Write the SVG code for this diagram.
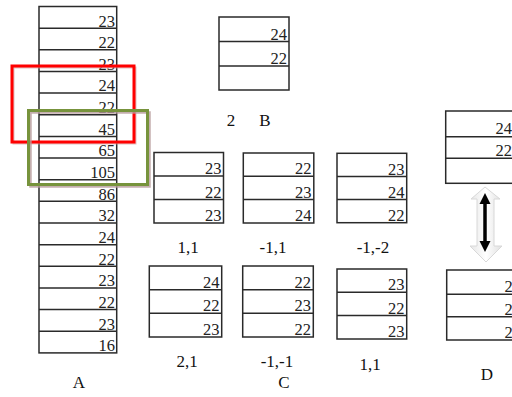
<svg xmlns="http://www.w3.org/2000/svg" width="512" height="397" viewBox="0 0 512 397">
<defs>
<style>
.box{fill:#fff;stroke:#2a2a2a;stroke-width:1.5}
.ln{stroke:#2a2a2a;stroke-width:1.5}
.n{font-family:"Liberation Serif",serif;font-size:16.5px;fill:#222;text-anchor:end}
.lb{font-family:"Liberation Serif",serif;font-size:17px;fill:#111;text-anchor:middle}
</style>
<linearGradient id="ga" x1="0" y1="0" x2="1" y2="0">
<stop offset="0" stop-color="#e6e6e6"/><stop offset="0.5" stop-color="#ffffff"/><stop offset="1" stop-color="#e0e0e0"/>
</linearGradient>
</defs>
<rect width="512" height="397" fill="#fff"/>

<g id="A">
<rect class="box" x="39" y="6.5" width="77.7" height="346.4"/>
<g class="ln">
<line x1="39" x2="116.7" y1="28.15" y2="28.15"/>
<line x1="39" x2="116.7" y1="49.8" y2="49.8"/>
<line x1="39" x2="116.7" y1="71.45" y2="71.45"/>
<line x1="39" x2="116.7" y1="93.1" y2="93.1"/>
<line x1="39" x2="116.7" y1="114.75" y2="114.75"/>
<line x1="39" x2="116.7" y1="136.4" y2="136.4"/>
<line x1="39" x2="116.7" y1="158.05" y2="158.05"/>
<line x1="39" x2="116.7" y1="179.7" y2="179.7"/>
<line x1="39" x2="116.7" y1="201.35" y2="201.35"/>
<line x1="39" x2="116.7" y1="223" y2="223"/>
<line x1="39" x2="116.7" y1="244.65" y2="244.65"/>
<line x1="39" x2="116.7" y1="266.3" y2="266.3"/>
<line x1="39" x2="116.7" y1="287.95" y2="287.95"/>
<line x1="39" x2="116.7" y1="309.6" y2="309.6"/>
<line x1="39" x2="116.7" y1="331.25" y2="331.25"/>
</g>
<text class="n" x="115" y="26.5">23</text>
<text class="n" x="115" y="48.1">22</text>
<text class="n" x="115" y="69.8">23</text>
<text class="n" x="115" y="91.4">24</text>
<text class="n" x="115" y="113.1">22</text>
<text class="n" x="115" y="134.7">45</text>
<text class="n" x="115" y="156.4">65</text>
<text class="n" x="115" y="178">105</text>
<text class="n" x="115" y="199.7">86</text>
<text class="n" x="115" y="221.3">32</text>
<text class="n" x="115" y="243">24</text>
<text class="n" x="115" y="264.6">22</text>
<text class="n" x="115" y="286.3">23</text>
<text class="n" x="115" y="307.9">22</text>
<text class="n" x="115" y="329.6">23</text>
<text class="n" x="115" y="351.2">16</text>
<text class="lb" x="79" y="388">A</text>
</g>

<g id="highlights">
<rect x="13.5" y="67.5" width="122" height="76" fill="none" stroke="#c99" stroke-width="2" opacity="0.6"/>
<rect x="12" y="66" width="122" height="76" fill="none" stroke="#f00" stroke-width="3"/>
<rect x="30.5" y="112.5" width="119" height="74" fill="none" stroke="#b59a9a" stroke-width="2.5" opacity="0.8"/>
<rect x="28.5" y="110.5" width="119" height="74" fill="none" stroke="#77933c" stroke-width="3"/>
</g>

<g id="B">
<rect class="box" x="219" y="17" width="70" height="73"/>
<line class="ln" x1="219" x2="289" y1="41.5" y2="41.5"/>
<line class="ln" x1="219" x2="289" y1="66" y2="66"/>
<text class="n" x="287" y="39.5">24</text>
<text class="n" x="287" y="63.5">22</text>
<text class="lb" x="231" y="126">2</text>
<text class="lb" x="265" y="126">B</text>
</g>

<g id="C1">
<rect class="box" x="154" y="152.5" width="69.5" height="70.5"/>
<line class="ln" x1="154" x2="223.5" y1="176" y2="176"/>
<line class="ln" x1="154" x2="223.5" y1="199.5" y2="199.5"/>
<text class="n" x="221.5" y="174">23</text>
<text class="n" x="221.5" y="197.5">22</text>
<text class="n" x="221.5" y="221">23</text>
<text class="lb" x="188" y="253">1,1</text>
</g>
<g id="C2">
<rect class="box" x="243.3" y="153" width="70.5" height="70"/>
<line class="ln" x1="243.3" x2="313.8" y1="176.3" y2="176.3"/>
<line class="ln" x1="243.3" x2="313.8" y1="199.6" y2="199.6"/>
<text class="n" x="311.5" y="174.3">22</text>
<text class="n" x="311.5" y="197.6">23</text>
<text class="n" x="311.5" y="221">24</text>
<text class="lb" x="273" y="253">-1,1</text>
</g>
<g id="C3">
<rect class="box" x="337" y="153.3" width="69.7" height="69.4"/>
<line class="ln" x1="337" x2="406.7" y1="176.5" y2="176.5"/>
<line class="ln" x1="337" x2="406.7" y1="199.6" y2="199.6"/>
<text class="n" x="404.5" y="174.5">23</text>
<text class="n" x="404.5" y="197.6">24</text>
<text class="n" x="404.5" y="220.7">22</text>
<text class="lb" x="373" y="253">-1,-2</text>
</g>
<g id="C4">
<rect class="box" x="149.3" y="266" width="72.4" height="71"/>
<line class="ln" x1="149.3" x2="221.7" y1="289.7" y2="289.7"/>
<line class="ln" x1="149.3" x2="221.7" y1="313.3" y2="313.3"/>
<text class="n" x="219.5" y="287.7">24</text>
<text class="n" x="219.5" y="311.3">22</text>
<text class="n" x="219.5" y="335">23</text>
<text class="lb" x="187" y="366.5">2,1</text>
</g>
<g id="C5">
<rect class="box" x="242.7" y="266" width="70.6" height="71"/>
<line class="ln" x1="242.7" x2="313.3" y1="289.7" y2="289.7"/>
<line class="ln" x1="242.7" x2="313.3" y1="313.3" y2="313.3"/>
<text class="n" x="311" y="287.7">22</text>
<text class="n" x="311" y="311.3">23</text>
<text class="n" x="311" y="335">22</text>
<text class="lb" x="277" y="366.5">-1,-1</text>
<text class="lb" x="284" y="388">C</text>
</g>
<g id="C6">
<rect class="box" x="337" y="269" width="69.7" height="70"/>
<line class="ln" x1="337" x2="406.7" y1="292.3" y2="292.3"/>
<line class="ln" x1="337" x2="406.7" y1="315.6" y2="315.6"/>
<text class="n" x="404.5" y="290.3">23</text>
<text class="n" x="404.5" y="313.6">22</text>
<text class="n" x="404.5" y="337">23</text>
<text class="lb" x="370" y="370">1,1</text>
</g>

<g id="D1">
<rect class="box" x="445.7" y="111" width="70" height="72.3"/>
<line class="ln" x1="445.7" x2="515.7" y1="136.7" y2="136.7"/>
<line class="ln" x1="445.7" x2="515.7" y1="158.3" y2="158.3"/>
<text class="n" x="512" y="134">24</text>
<text class="n" x="512" y="156">22</text>
</g>
<g id="D2">
<rect class="box" x="446.7" y="270" width="80" height="70"/>
<line class="ln" x1="446.7" x2="526.7" y1="294.3" y2="294.3"/>
<line class="ln" x1="446.7" x2="526.7" y1="316.7" y2="316.7"/>
<text class="n" x="521" y="292">24</text>
<text class="n" x="521" y="314.5">22</text>
<text class="n" x="521" y="338">23</text>
<text class="lb" x="487" y="380">D</text>
</g>

<g id="connectors">
<polygon points="485,187 471,199 477,199 477,246 470,246 486,262 502,246 494,246 494,199 500,199" fill="url(#ga)" stroke="#d8d8d8" stroke-width="1"/>
<line x1="485" y1="200" x2="485" y2="245" stroke="#000" stroke-width="3.5"/>
<polygon points="485,193 479.5,204 490.5,204" fill="#000"/>
<polygon points="485,252 479.5,241 490.5,241" fill="#000"/>
</g>
</svg>
